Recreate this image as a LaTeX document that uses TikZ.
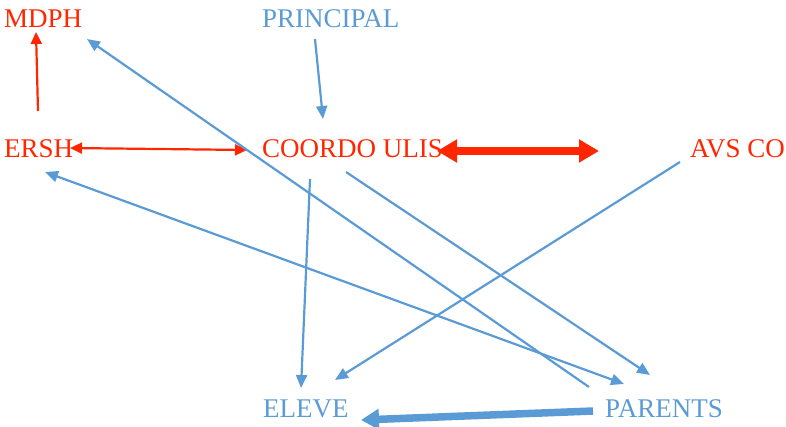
\documentclass[tikz,border=0pt]{standalone}
\usepackage{fontspec}
\setmainfont{Liberation Serif}
\usetikzlibrary{arrows.meta}
\definecolor{lred}{RGB}{255,38,0}
\definecolor{lblue}{RGB}{91,155,213}
\tikzset{
  lbl/.style={anchor=base west, inner sep=0pt, font=\fontsize{27}{30}\selectfont},
  redlbl/.style={lbl, text=lred},
  bluelbl/.style={lbl, text=lblue},
  redthin/.style={draw=lred, line width=2.2pt, -{Triangle[length=12pt,width=11pt]}},
  redbig/.style={draw=lred, line width=7.5pt, {Triangle[length=20pt,width=22pt]}-{Triangle[length=20pt,width=22pt]}},
  bluethin/.style={draw=lblue, line width=2.2pt, -{Triangle[length=13pt,width=11pt]}},
  bluebig/.style={draw=lblue, line width=7.5pt, -{Triangle[length=18pt,width=20pt]}}
}
\begin{document}
\begin{tikzpicture}[x=1pt,y=-1pt]
\useasboundingbox (0,0) rectangle (786,426);
\node[redlbl] (mdph) at (4,27) {MDPH};
\node[bluelbl] (principal) at (262,27) {PRINCIPAL};
\node[redlbl] (ersh) at (4,157) {ERSH};
\node[redlbl] (coordo) at (262,157) {COORDO ULIS};
\node[redlbl] (avs) at (690,157) {AVS CO};
\node[bluelbl] (eleve) at (263,417) {ELEVE};
\node[bluelbl] (parents) at (605,417) {PARENTS};
% anchor coordinates
\coordinate (mdph-s) at (36,32);
\coordinate (mdph-se) at (87,39);
\coordinate (ersh-n) at (38,111);
\coordinate (ersh-e) at (70,148);
\coordinate (ersh-se) at (45,172);
\coordinate (principal-s) at (315,39);
\coordinate (coordo-n) at (323,119);
\coordinate (coordo-w) at (247,150);
\coordinate (coordo-e) at (437,151);
\coordinate (coordo-s) at (310,179);
\coordinate (coordo-se) at (346,172);
\coordinate (avs-w) at (599,151);
\coordinate (avs-sw) at (680,162);
\coordinate (eleve-n) at (301,388);
\coordinate (eleve-ne) at (335,380);
\coordinate (eleve-e) at (361,420);
\coordinate (parents-nw) at (589,387);
\coordinate (parents-n1) at (624,384);
\coordinate (parents-n2) at (650,375);
\coordinate (parents-w) at (593,411);
% red connectors
\draw[redthin] (ersh-n) -- (mdph-s);
\draw[redthin, {Triangle[length=12pt,width=11pt]}-{Triangle[length=12pt,width=11pt]}] (ersh-e) -- (coordo-w);
\draw[redbig] (coordo-e) -- (avs-w);
% blue connectors
\draw[bluethin] (principal-s) -- (coordo-n);
\draw[bluethin] (parents-nw) -- (mdph-se);
\draw[bluethin, {Triangle[length=13pt,width=11pt]}-{Triangle[length=13pt,width=11pt]}] (ersh-se) -- (parents-n1);
\draw[bluethin] (coordo-se) -- (parents-n2);
\draw[bluethin] (coordo-s) -- (eleve-n);
\draw[bluethin] (avs-sw) -- (eleve-ne);
\draw[bluebig] (parents-w) -- (eleve-e);
\end{tikzpicture}
\end{document}
